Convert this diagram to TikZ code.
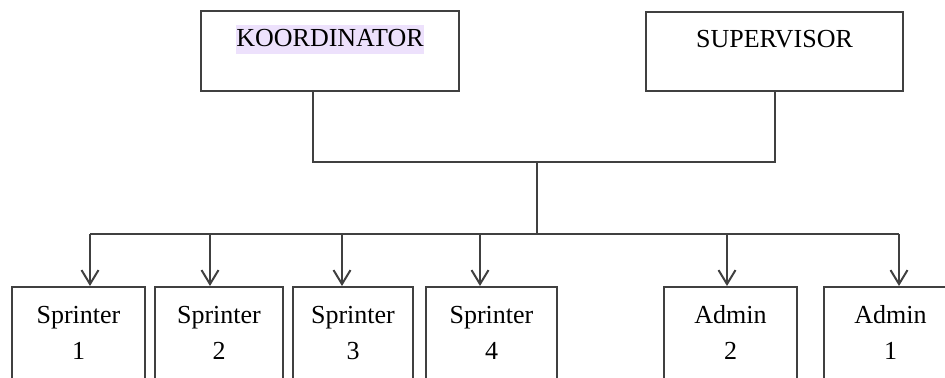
\documentclass[tikz,border=0pt]{standalone}
\usepackage{fontspec}
\setmainfont{Liberation Serif}
\usetikzlibrary{arrows.meta}
\definecolor{hlpurple}{RGB}{237,225,252}
\newcommand{\hilite}[1]{{\setlength{\fboxsep}{0pt}\colorbox{hlpurple}{\rule[-3.5pt]{0pt}{14.5pt}#1}}}

\begin{document}
\begin{tikzpicture}[x=0.5pt,y=-0.5pt,
    line/.style={draw=black!75,line width=1pt},
    headbox/.style={line,inner sep=0pt,text height=18pt,text depth=22pt,anchor=north west,
        font=\fontsize{13pt}{17.5pt}\selectfont},
    unitbox/.style={line,inner sep=0pt,align=center,text height=36pt,text depth=24pt,
        anchor=north west,font=\fontsize{13pt}{17.5pt}\selectfont},
    drop/.style={line,-{Straight Barb[length=7pt,width=8.5pt]}}]
    \useasboundingbox (0,0) rectangle (945,378);
    \clip (0,0) rectangle (945,378);
    % top level
    \node[headbox,minimum width=129pt] (koor) at (200,10) {\hilite{KOORDINATOR}};
    \node[headbox,minimum width=128.5pt,text depth=21.5pt] (supr) at (645,11) {SUPERVISOR};
    % units
    \node[unitbox,minimum width=66.5pt] (s1) at (11,286) {Sprinter\\1};
    \node[unitbox,minimum width=64pt] (s2) at (154,286) {Sprinter\\2};
    \node[unitbox,minimum width=60pt] (s3) at (292,286) {Sprinter\\3};
    \node[unitbox,minimum width=65.5pt] (s4) at (425,286) {Sprinter\\4};
    \node[unitbox,minimum width=66.5pt] (a2) at (663,286) {Admin\\2};
    \node[unitbox,minimum width=66.5pt] (a1) at (823,286) {Admin\\1};
    % joins
    \coordinate (kdown) at (313,162);
    \coordinate (join) at (537,162);
    \coordinate (hub) at (537,234);
    \coordinate (d1) at (90,234);
    \coordinate (d2) at (210,234);
    \coordinate (d3) at (342,234);
    \coordinate (d4) at (480,234);
    \coordinate (d5) at (727,234);
    \coordinate (d6) at (899,234);
    \draw[line] (kdown |- koor.south) -- (kdown) -| (supr.south);
    \draw[line] (join) -- (hub);
    \draw[line] (d1) -- (d6);
    \foreach \d/\n in {d1/s1,d2/s2,d3/s3,d4/s4,d5/a2,d6/a1}
        \draw[drop] (\d) -- (\d |- \n.north);
\end{tikzpicture}
\end{document}
